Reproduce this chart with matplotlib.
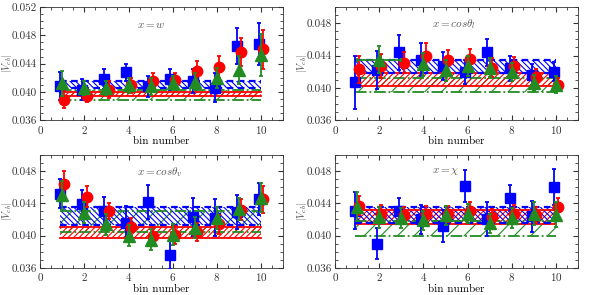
# Vcb extracted bin-by-bin for the four kinematic variables
import numpy as np
import matplotlib.pyplot as plt
from matplotlib.ticker import MultipleLocator

plt.rcParams['font.family'] = 'serif'
plt.rcParams['font.serif'] = ['cmr10', 'DejaVu Serif']
plt.rcParams['mathtext.fontset'] = 'cm'
plt.rcParams['axes.formatter.use_mathtext'] = True
plt.rcParams['hatch.linewidth'] = 0.8

bins = np.arange(1, 11)
labels = [r'$x = w$', r'$x = cos\theta_l$', r'$x = cos\theta_v$', r'$x = \chi$']
nan = np.nan

# blue squares
blue = [
    [0.0408, 0.0403, 0.0418, 0.0428, 0.0408, 0.0418, 0.0415, 0.0406, 0.0465, 0.0468],
    [0.0407, 0.0422, 0.0444, 0.0435, 0.0427, 0.0420, 0.0444, 0.0424, 0.0416, 0.0420],
    [0.0452, 0.0439, 0.0430, 0.0415, 0.0442, 0.0376, 0.0423, 0.0422, 0.0429, 0.0445],
    [0.0431, 0.0390, 0.0430, 0.0420, 0.0412, 0.0461, 0.0420, 0.0447, 0.0424, 0.0460],
]
blue_err = [
    [0.0020, 0.0015, 0.0014, 0.0012, 0.0015, 0.0015, 0.0017, 0.0020, 0.0025, 0.0030],
    [0.0033, 0.0023, 0.0022, 0.0020, 0.0017, 0.0015, 0.0017, 0.0015, 0.0013, 0.0012],
    [0.0018, 0.0017, 0.0018, 0.0022, 0.0021, 0.0018, 0.0023, 0.0023, 0.0021, 0.0020],
    [0.0023, 0.0019, 0.0016, 0.0018, 0.0020, 0.0020, 0.0021, 0.0016, 0.0019, 0.0022],
]
# red circles
red = [
    [0.0389, 0.0394, 0.0403, 0.0409, 0.0416, 0.0417, 0.0429, 0.0435, 0.0456, 0.0460],
    [0.0423, 0.0427, 0.0431, 0.0440, 0.0434, 0.0436, 0.0425, 0.0427, 0.0413, 0.0404],
    [0.0464, 0.0448, 0.0430, 0.0411, 0.0400, 0.0401, 0.0404, 0.0414, 0.0432, 0.0445],
    [0.0437, 0.0427, 0.0425, 0.0427, 0.0427, 0.0431, 0.0423, 0.0427, 0.0425, 0.0435],
]
red_err = [
    [0.0012, 0.0008, 0.0012, 0.0010, 0.0011, 0.0010, 0.0014, 0.0016, 0.0020, 0.0027],
    [0.0017, 0.0015, 0.0013, 0.0015, 0.0013, 0.0012, 0.0012, 0.0011, 0.0010, 0.0008],
    [0.0016, 0.0013, 0.0010, 0.0011, 0.0011, 0.0011, 0.0011, 0.0012, 0.0013, 0.0017],
    [0.0012, 0.0011, 0.0010, 0.0010, 0.0010, 0.0010, 0.0010, 0.0011, 0.0010, 0.0012],
]
# green triangles
green = [
    [0.0412, 0.0406, 0.0405, 0.0409, 0.0408, 0.0412, 0.0414, 0.0420, 0.0431, 0.0452],
    [nan, 0.0435, nan, 0.0429, 0.0422, 0.0427, 0.0425, 0.0420, 0.0406, 0.0404],
    [0.0450, 0.0428, 0.0414, 0.0400, 0.0395, 0.0401, 0.0410, 0.0422, 0.0433, 0.0447],
    [0.0436, 0.0423, 0.0422, 0.0419, 0.0425, 0.0427, 0.0415, 0.0422, 0.0427, 0.0426],
]
green_err = [
    [0.0018, 0.0010, 0.0010, 0.0010, 0.0012, 0.0010, 0.0012, 0.0014, 0.0020, 0.0030],
    [0.0015, 0.0017, 0.0013, 0.0014, 0.0013, 0.0012, 0.0012, 0.0011, 0.0010, 0.0010],
    [0.0018, 0.0013, 0.0013, 0.0013, 0.0013, 0.0013, 0.0013, 0.0014, 0.0014, 0.0018],
    [0.0018, 0.0013, 0.0012, 0.0012, 0.0012, 0.0012, 0.0012, 0.0012, 0.0014, 0.0015],
]
# horizontal bar on the green bin-2 point of the cos(theta_l) panel
green_xerr2 = [0, 1, 0, 0, 0, 0, 0, 0, 0, 0]

# fitted bands (low, high)
blue_band = [(0.0405, 0.0416), (0.0418, 0.0434), (0.0413, 0.0436), (0.0415, 0.0436)]
red_band = [(0.0394, 0.0400), (0.0402, 0.0418), (0.0397, 0.0411), (0.0414, 0.0432)]
green_band = [(0.0389, 0.0403), (0.0395, 0.0412), (0.0405, 0.0430), (0.0400, 0.0418)]

ymax = [0.052, 0.050, 0.050, 0.050]
label_y = [0.04945, 0.0479, 0.0479, 0.0479]

BLUE, RED, GREEN = '#0000ff', '#ff0000', '#228b22'

fig = plt.figure(figsize=(5.91, 2.95), dpi=100)
lefts = [0.068, 0.567, 0.068, 0.567]
bottoms = [0.593, 0.593, 0.092, 0.092]

for i in range(4):
    ax = fig.add_axes([lefts[i], bottoms[i], 0.411, 0.383])
    xb = [0.9, 10.0]

    # bands
    lo, hi = green_band[i]
    ax.fill_between(xb, lo, hi, facecolor='none', edgecolor=GREEN, hatch='//', lw=0, zorder=1)
    ax.plot(xb, [lo, lo], color=GREEN, ls='-.', lw=1.3, zorder=2)
    ax.plot(xb, [hi, hi], color=GREEN, ls='-.', lw=1.3, zorder=2)
    lo, hi = red_band[i]
    ax.fill_between(xb, lo, hi, facecolor='none', edgecolor=RED, hatch='//////', lw=0, zorder=1)
    ax.plot(xb, [lo, lo], color=RED, ls='-', lw=1.3, zorder=2)
    ax.plot(xb, [hi, hi], color=RED, ls='-', lw=1.3, zorder=2)
    lo, hi = blue_band[i]
    ax.fill_between(xb, lo, hi, facecolor='none', edgecolor=BLUE, hatch='\\\\\\\\\\\\', lw=0, zorder=1)
    ax.plot(xb, [lo, lo], color=BLUE, ls=(0, (3, 2)), lw=1.6, zorder=2)
    ax.plot(xb, [hi, hi], color=BLUE, ls=(0, (3, 2)), lw=1.6, zorder=2)

    # points
    ax.errorbar(bins - 0.1, blue[i], yerr=blue_err[i], fmt='s', color=BLUE, ms=7,
                elinewidth=1.3, capsize=1.5, capthick=1.3, zorder=3)
    ax.errorbar(bins + 0.1, red[i], yerr=red_err[i], fmt='o', color=RED, ms=7.5,
                elinewidth=1.3, capsize=1.5, capthick=1.3, zorder=4)
    xerr = green_xerr2 if i == 1 else None
    ax.errorbar(bins, green[i], yerr=green_err[i], xerr=xerr, fmt='^', color=GREEN, ms=8,
                elinewidth=1.3, capsize=1.5, capthick=1.3, zorder=5)

    ax.set_xlim(0, 11)
    ax.set_ylim(0.036, ymax[i])
    ax.xaxis.set_major_locator(MultipleLocator(2))
    ax.xaxis.set_minor_locator(MultipleLocator(0.5))
    ax.yaxis.set_major_locator(MultipleLocator(0.004))
    ax.yaxis.set_minor_locator(MultipleLocator(0.001))
    ax.yaxis.set_major_formatter(plt.FormatStrFormatter('%.3f'))
    ax.tick_params(which='both', direction='in', top=True, right=True, labelsize=8,
                   colors='#333333', pad=2.5)
    ax.tick_params(which='major', length=3.5)
    ax.tick_params(which='minor', length=2)
    for s in ax.spines.values():
        s.set_color('#333333')
        s.set_linewidth(0.6)
    ax.set_xlabel('bin number', fontsize=8, labelpad=1)
    ax.set_ylabel(r'$|V_{cb}|$', fontsize=7.5, color='#555555')
    ax.yaxis.set_label_coords(-0.108, 0.5)
    ax.text(4.4, label_y[i], labels[i], fontsize=8, color='#555555', va='center')

fig.savefig('out.png', dpi=100)
